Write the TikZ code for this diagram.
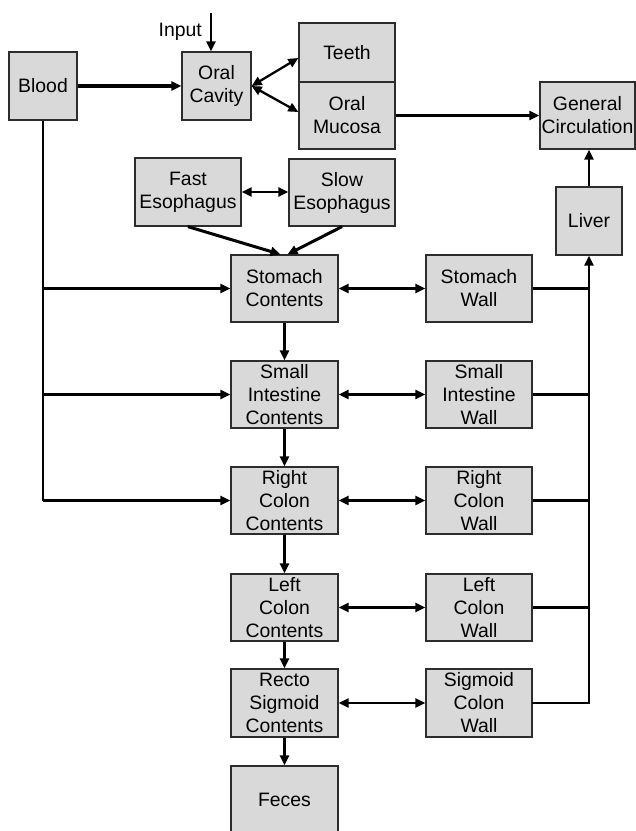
\documentclass[tikz,border=0pt]{standalone}
\usepackage{fontspec}
\setmainfont{Liberation Sans}
\usetikzlibrary{arrows.meta,calc}
\definecolor{boxfill}{RGB}{217,217,217}
\definecolor{boxline}{RGB}{45,45,45}
\tikzset{
  comp/.style={draw=boxline, fill=boxfill, line width=1.3pt, inner sep=0pt,
    align=center, font=\fontsize{19.4}{23}\selectfont,
    minimum width=#1, minimum height=67pt},
  comp/.default=106pt,
  tip/.tip={Triangle[length=10pt,width=9pt]},
  flow/.style={line width=2.3pt, -tip},
  bothflow/.style={line width=2.3pt, tip-tip},
  plain/.style={line width=2.3pt},
  heavy/.style={line width=3.4pt},
}
\begin{document}
\begin{tikzpicture}[x=1pt,y=-1pt]
\useasboundingbox (0,0) rectangle (636,831);

% top row
\node[comp=68pt, minimum height=68pt] (blood) at (43,86) {Blood};
\node[comp=69pt, minimum height=68pt] (oral) at (216.5,86) {Oral\\Cavity};
\node[comp=96pt, minimum height=59pt] (teeth) at (347,52.5) {Teeth};
\node[comp=96pt] (mucosa) at (347,115.5) {Oral\\Mucosa};
\node[comp=95pt] (circ) at (587.5,115.5) {General\\Circulation};
\node[comp=66pt, minimum height=68pt] (liver) at (589,221) {Liver};

% esophagus
\node[comp, minimum height=68pt] (fastes) at (188,192) {Fast\\Esophagus};
\node[comp] (slowes) at (342,192.5) {Slow\\Esophagus};

% contents column
\node[comp=107pt] (stc) at (284.5,288.5) {Stomach\\Contents};
\node[comp=107pt] (sic) at (284.5,394.5) {Small\\Intestine\\Contents};
\node[comp=107pt] (rcc) at (284.5,500.5) {Right\\Colon\\Contents};
\node[comp=107pt] (lcc) at (284.5,607.5) {Left\\Colon\\Contents};
\node[comp=107pt, minimum height=68pt] (rsc) at (284.5,703) {Recto\\Sigmoid\\Contents};
\node[comp=107pt, minimum height=68pt] (feces) at (284.5,800) {Feces};

% wall column
\node[comp] (stw) at (479,288.5) {Stomach\\Wall};
\node[comp] (siw) at (479,394.5) {Small\\Intestine\\Wall};
\node[comp] (rcw) at (479,500.5) {Right\\Colon\\Wall};
\node[comp] (lcw) at (479,607.5) {Left\\Colon\\Wall};
\node[comp, minimum height=68pt] (scw) at (479,703) {Sigmoid\\Colon\\Wall};

% input
\coordinate (inp) at (211,13);
\node[font=\fontsize{19.4}{23}\selectfont, anchor=east, inner sep=0pt] (inputlbl) at (202,32) {Input};
\draw[flow] (inp) -- (inp |- oral.north);

% blood to oral cavity
\draw[flow, heavy] (blood) -- (oral);

% oral cavity exchanges
\draw[bothflow] (oral.east) -- ($(teeth.west)+(0,5.5)$);
\draw[bothflow] (oral.east) -- ($(mucosa.west)+(0,-3.5)$);
\draw[flow] (mucosa.east) -- (circ.west);
\draw[flow] (liver.north) -- (liver.north |- circ.south);

% esophagus
\draw[bothflow] (fastes.east) -- (fastes.east -| slowes.west);
\draw[flow, line width=3pt] (fastes.south) -- ($(stc.north)+(-4,0)$);
\draw[flow, line width=3pt] (slowes.south) -- ($(stc.north)+(3,0)$);

% contents chain
\draw[flow] (stc) -- (sic);
\draw[flow] (sic) -- (rcc);
\draw[flow] (rcc) -- (lcc);
\draw[flow] (lcc) -- (rsc);
\draw[flow] (rsc) -- (feces);

% blood feeding the contents
\coordinate (bspine) at (43,500.5);
\draw[plain] (blood.south) -- (bspine);
\draw[flow] (stc -| blood) -- (stc.west);
\draw[flow, heavy] (sic -| blood) -- (sic.west);
\draw[flow] (bspine) -- (rcc.west);

% contents <-> wall
\draw[bothflow] (stc) -- (stw);
\draw[bothflow, heavy] (sic) -- (siw);
\draw[bothflow] (rcc) -- (rcw);
\draw[bothflow] (lcc) -- (lcw);
\draw[bothflow] (rsc) -- (scw);

% walls draining to the liver
\coordinate (lspine) at (589,703);
\draw[plain] (stw.east) -- (stw -| liver);
\draw[heavy] (siw.east) -- (siw -| liver);
\draw[plain] (rcw.east) -- (rcw -| liver);
\draw[plain] (lcw.east) -- (lcw -| liver);
\draw[plain, line cap=rect] (scw.east) -- (lspine);
\draw[flow] (lspine) -- (liver.south);
\end{tikzpicture}
\end{document}
